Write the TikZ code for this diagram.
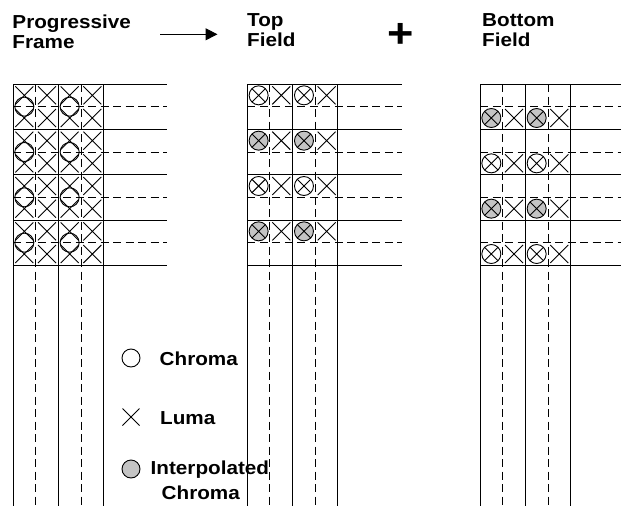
\documentclass[tikz,border=0pt]{standalone}
\usepackage{fontspec}
\newfontfamily\fldfont{Liberation Sans}[FakeStretch=1.1]
\usetikzlibrary{arrows.meta}
\definecolor{fldgray}{RGB}{196,196,196}

\begin{document}
\begin{tikzpicture}[
  x=1pt, y=-1pt,
  fldline/.style = {line width=1pt},
  flddash/.style = {line width=1pt, dash pattern=on 8pt off 4.5pt},
  fldmark/.style = {line width=0.9pt},
  fldtitle/.style = {font=\fldfont\bfseries\fontsize{18.8}{20.5}\selectfont, align=left, inner sep=0pt},
  fldlbl/.style = {font=\fldfont\bfseries\fontsize{18.8}{25}\selectfont, align=left, inner sep=0pt},
  fldarrow/.style = {line width=1pt, -{Triangle[length=12pt, width=12pt]}}
]
  \useasboundingbox (0,0) rectangle (621,506);
  % titles
  \node[fldtitle, anchor=north west] (progtitle) at (12.3,14.5) {Progressive\\Frame};
  \node[fldtitle, anchor=north west] (toptitle) at (247,13) {Top\\Field};
  \node[fldtitle, anchor=north west] (bottitle) at (482,13) {Bottom\\Field};
  \node[font=\fldfont\bfseries\fontsize{41}{41}\selectfont, inner sep=0pt] (plus) at (400.5,35) {+};
  \coordinate (arrowtail) at (160,34.3);
  \coordinate (arrowhead) at (217.5,34.3);
  \draw[fldarrow] (arrowtail) -- (arrowhead);
  % grids
  \foreach \gx/\gr in {13/167, 247.3/402, 480/621} {
    \foreach \k in {0,2,4}
      \draw[fldline] (\gx+\k*22.67,84) -- (\gx+\k*22.67,506);
    \foreach \k in {1,3}
      \draw[flddash] (\gx+\k*22.67,84) -- (\gx+\k*22.67,506);
    \foreach \j in {0,2,...,8}
      \draw[fldline] (\gx,84+\j*22.67) -- (\gr,84+\j*22.67);
    \foreach \j in {1,3,5,7}
      \draw[flddash] (\gx,84+\j*22.67) -- (\gr,84+\j*22.67);
  }
  % progressive frame samples
  \foreach \c in {0,...,3}
    \foreach \r in {0,...,7}
      \draw[fldmark] (24.33+\c*22.67-9, 95.33+\r*22.67-9) -- ++(18,18) ++(0,-18) -- ++(-18,18);
  \foreach \c in {0,2}
    \foreach \r in {0,...,3}
      \draw[fldmark] (24.33+\c*22.67, 106.67+\r*45.33) circle[radius=9.5pt];
  % field samples
  \foreach \gx/\gy/\fc in {247.3/95.33/white, 247.3/140.67/fldgray, 247.3/186/white, 247.3/231.33/fldgray,
                           480/118/fldgray, 480/163.33/white, 480/208.67/fldgray, 480/254/white} {
    \foreach \c in {0,2} {
      \draw[fldmark, fill=\fc] (\gx+11.33+\c*22.67, \gy) circle[radius=9.5pt];
      \draw[fldmark] (\gx+11.33+\c*22.67-6.7, \gy-6.7) -- ++(13.4,13.4) ++(0,-13.4) -- ++(-13.4,13.4);
    }
    \foreach \c in {1,3}
      \draw[fldmark] (\gx+11.33+\c*22.67-9, \gy-9) -- ++(18,18) ++(0,-18) -- ++(-18,18);
  }
  % legend
  \draw[fldmark] (131,358) circle[radius=9pt];
  \node[fldlbl, anchor=base west] (chromalbl) at (159.5,365.7) {Chroma};
  \draw[fldmark] (122.5,408.5) -- ++(17,17) ++(0,-17) -- ++(-17,17);
  \node[fldlbl, anchor=base west] (lumalbl) at (160,424) {Luma};
  \draw[fldmark, fill=fldgray] (131,469) circle[radius=9pt];
  \node[fldlbl, anchor=north west] (interplbl) at (150.5,461) {Interpolated\\ \hspace*{11pt}Chroma};
\end{tikzpicture}
\end{document}
